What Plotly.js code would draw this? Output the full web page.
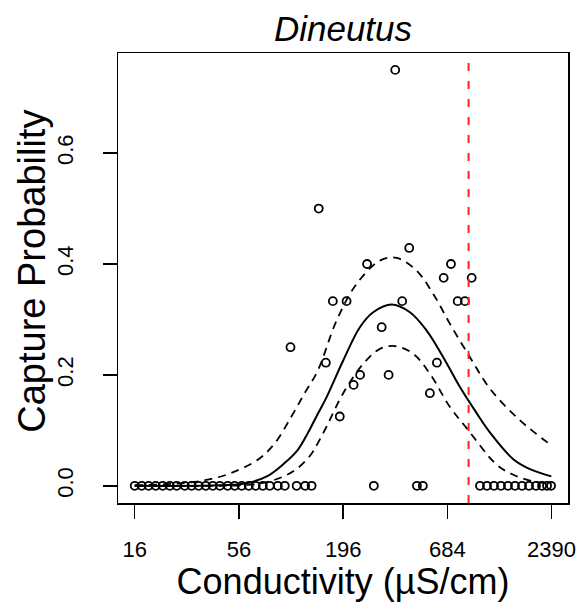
<!DOCTYPE html>
<html>
<head>
<meta charset="utf-8">
<script src="https://cdn.plot.ly/plotly-3.0.1.min.js"></script>
<style>html,body{margin:0;padding:0;background:#fff;}</style>
</head>
<body>
<div id="chart" style="width:582px;height:602px;"></div>
<script>
// Observed capture probabilities (conductivity in µS/cm)
const obsConductivity = [16, 17.4, 18.9, 20.6, 22.4, 24.4, 26.5, 29.2, 31.7, 34.5, 37.6, 40.9, 44.5, 48.9, 53.2, 57.9, 63.0, 68.5, 74.6, 81.1, 89.3, 97.1, 112, 124, 134, 283, 475, 510, 1013, 1102, 1199, 1304, 1418, 1543, 1679, 1826, 1986, 2136, 2268, 2380,
  146, 433, 261, 715, 655, 917, 173, 204, 398, 775, 846, 311, 104, 159, 604, 240, 338, 222, 555, 188, 366];
const obsProbability = [0, 0, 0, 0, 0, 0, 0, 0, 0, 0, 0, 0, 0, 0, 0, 0, 0, 0, 0, 0, 0, 0, 0, 0, 0, 0, 0, 0, 0, 0, 0, 0, 0, 0, 0, 0, 0, 0, 0, 0,
  0.5, 0.429, 0.4, 0.4, 0.375, 0.375, 0.333, 0.333, 0.333, 0.333, 0.333, 0.286, 0.25, 0.222, 0.222, 0.2, 0.2, 0.182, 0.167, 0.125, 0.75];

// Fitted curve
const fitX = [16, 40, 56.6, 62.2, 79.2, 96.8, 113.6, 128, 144.5, 160.5, 195.9, 239.4, 280.9, 350.4, 436.7, 533.9, 651.7, 796.5, 973.6, 1143, 1512, 1848, 2390];
const fitY = [0.0, 0.0005, 0.003, 0.005, 0.018, 0.041, 0.065, 0.095, 0.13, 0.160, 0.226, 0.286, 0.313, 0.327, 0.313, 0.280, 0.232, 0.178, 0.131, 0.096, 0.048, 0.030, 0.017];

// Upper confidence band
const upperX = [16, 29.2, 38.5, 50.9, 70.2, 85.8, 104.8, 123.2, 144.5, 180.9, 230, 304.5, 372.2, 473.3, 578, 706.5, 898, 1143, 1639, 2390];
const upperY = [0.001, 0.005, 0.011, 0.023, 0.047, 0.076, 0.124, 0.167, 0.208, 0.298, 0.364, 0.406, 0.411, 0.388, 0.346, 0.292, 0.232, 0.175, 0.118, 0.073];

// Lower confidence band
const lowerX = [16, 56.6, 71.9, 92.9, 113.6, 133.3, 144.5, 160.5, 195.9, 249.1, 304.5, 364.6, 454.4, 555.5, 706.5, 863.5, 1239, 1512, 1917, 2390];
const lowerY = [0.0, 0.001, 0.004, 0.015, 0.032, 0.057, 0.077, 0.107, 0.167, 0.22, 0.247, 0.252, 0.238, 0.202, 0.142, 0.104, 0.038, 0.02, 0.008, 0.004];

// Threshold line
const thresholdConductivity = 884;

const xTickVals = [16, 56, 196, 684, 2390];
const xTickText = ['16', '56', '196', '684', '2390'];
const yTickVals = [0, 0.2, 0.4, 0.6];
const yTickText = ['0.0', '0.2', '0.4', '0.6'];
const yTitle = 'Capture Probability';

const traces = [
  {x: upperX, y: upperY, type: 'scatter', mode: 'lines', line: {color: 'black', width: 1.8, dash: '8px,6px', shape: 'spline', smoothing: 1}, hoverinfo: 'skip'},
  {x: lowerX, y: lowerY, type: 'scatter', mode: 'lines', line: {color: 'black', width: 1.8, dash: '8px,6px', shape: 'spline', smoothing: 1}, hoverinfo: 'skip'},
  {x: fitX, y: fitY, type: 'scatter', mode: 'lines', line: {color: 'black', width: 2, shape: 'spline', smoothing: 1}},
  {x: obsConductivity, y: obsProbability, type: 'scatter', mode: 'markers',
   marker: {symbol: 'circle-open', size: 8, color: 'black', line: {width: 1.8, color: 'black'}}}
];

const axisFont = {family: 'Liberation Sans, Arial, sans-serif', color: 'black'};

const layout = {
  width: 582, height: 602,
  margin: {l: 118, r: 14, t: 53, b: 99},
  paper_bgcolor: 'white', plot_bgcolor: 'white',
  showlegend: false,
  font: axisFont,
  title: {text: '<i>Dineutus</i>', font: {family: 'Liberation Sans, Arial, sans-serif', size: 35, color: 'black'},
          xref: 'paper', x: 0.5, xanchor: 'center', yref: 'container', y: 0.953, yanchor: 'middle'},
  xaxis: {
    type: 'log', range: [1.117, 3.465],
    tickmode: 'array', tickvals: xTickVals, ticktext: xTickText,
    ticks: 'outside', ticklen: 14, tickwidth: 1.5, tickcolor: 'black',
    showline: true, linewidth: 1.5, linecolor: 'black', mirror: true,
    showgrid: false, zeroline: false,
    tickfont: {size: 22, color: 'black'},
    ticklabelstandoff: 12,
    title: {text: 'Conductivity (µS/cm)', font: {size: 36, color: 'black'}, standoff: 6}
  },
  yaxis: {
    range: [-0.031, 0.7805],
    tickmode: 'array', tickvals: yTickVals, ticktext: yTickText,
    tickangle: -90,
    ticks: 'outside', ticklen: 14, tickwidth: 1.5, tickcolor: 'black',
    showline: true, linewidth: 1.5, linecolor: 'black', mirror: true,
    showgrid: false, zeroline: false,
    tickfont: {size: 22, color: 'black'},
    ticklabelstandoff: 21
  },
  annotations: [{
    text: yTitle, textangle: -90, showarrow: false,
    xref: 'paper', x: -0.19, xanchor: 'center',
    yref: 'paper', y: 0.515, yanchor: 'middle',
    font: {size: 38, color: 'black'}
  }],
  shapes: [{
    type: 'line', xref: 'x', yref: 'paper', x0: thresholdConductivity, x1: thresholdConductivity, y0: 0, y1: 1,
    line: {color: '#ff2020', width: 2, dash: '8px,10px'}
  }]
};

Plotly.newPlot('chart', traces, layout, {displayModeBar: false, staticPlot: true});
</script>
</body>
</html>
